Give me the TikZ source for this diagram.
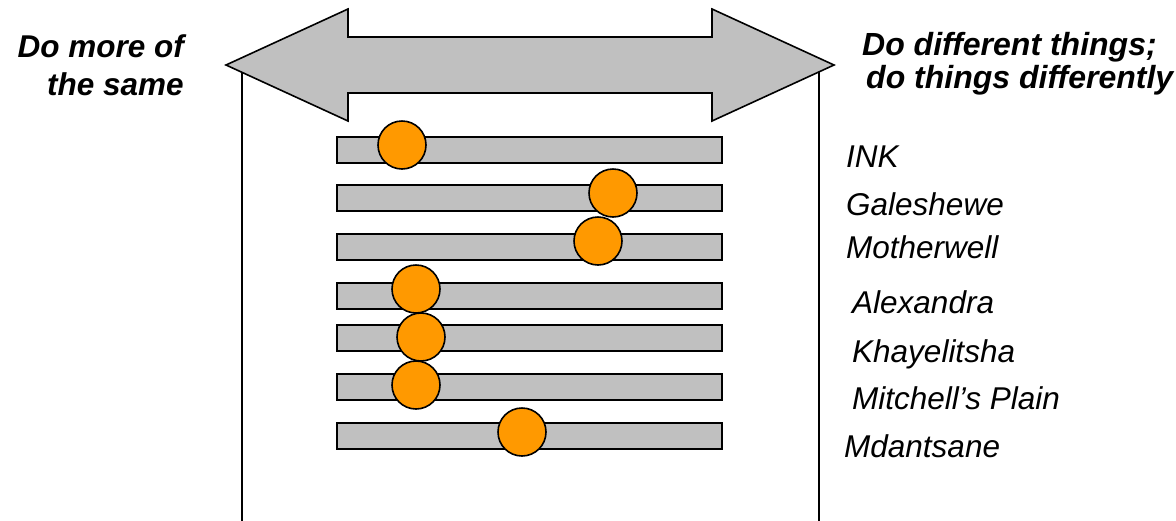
\documentclass[tikz,border=0pt]{standalone}
\usepackage{fontspec}
\setmainfont{Liberation Sans}
\definecolor{bargray}{RGB}{192,192,192}
\definecolor{dotorange}{RGB}{255,153,0}
\begin{document}
\begin{tikzpicture}[x=1pt,y=-1pt,
  bar/.style={draw=black,line width=1.6pt,fill=bargray,rectangle,minimum width=385pt,minimum height=26pt,inner sep=0pt},
  dot/.style={draw=black,line width=1.6pt,fill=dotorange,circle,minimum size=48pt,inner sep=0pt},
  site/.style={anchor=base west,inner sep=0pt,font=\fontsize{31.5}{36}\selectfont\itshape},
  title/.style={inner sep=0pt,font=\fontsize{31.5}{36}\selectfont\bfseries\itshape},
  titleR/.style={inner sep=0pt,font=\fontsize{32}{36}\selectfont\bfseries\itshape}]
\useasboundingbox (0,0) rectangle (1176,520);
% frame
\coordinate (bl) at (242,521);
\coordinate (tl) at (242,66);
\coordinate (br) at (819,521);
\coordinate (tr) at (819,66);
\draw[line width=1.6pt] (tl) -- (bl);
\draw[line width=1.6pt] (tr) -- (br);
% double arrow
\draw[line width=1.6pt,fill=bargray,line join=miter]
  (226,65) -- (348,9) -- (348,37) -- (712,37) -- (712,9) -- (834,65)
  -- (712,121) -- (712,93) -- (348,93) -- (348,121) -- cycle;
% bars
\foreach \i/\y in {1/150,2/198,3/247,4/296,5/338,6/387,7/436}
  \node[bar] (bar\i) at (529.5,\y) {};
% dots
\node[dot] (dot1) at (402,145) {};
\node[dot] (dot2) at (613,193) {};
\node[dot] (dot3) at (598,241) {};
\node[dot] (dot4) at (416,289) {};
\node[dot] (dot5) at (421,337) {};
\node[dot] (dot6) at (416,385) {};
\node[dot] (dot7) at (522,432) {};
% site labels
\node[site] (s1) at (846,167) {INK};
\node[site] (s2) at (846,215) {Galeshewe};
\node[site] (s3) at (846,258) {Motherwell};
\node[site] (s4) at (852,313) {Alexandra};
\node[site] (s5) at (852,362) {Khayelitsha};
\node[site] (s6) at (852,409) {Mitchell’s Plain};
\node[site] (s7) at (844,457) {Mdantsane};
% titles
\node[title,anchor=base east] (t1) at (184,57) {Do more of};
\node[title,anchor=base east] (t2) at (184,95) {the same};
\node[titleR,anchor=base west] (t3) at (862,55) {Do different things;};
\node[titleR,anchor=base west] (t4) at (866,88) {do things differently};
\end{tikzpicture}
\end{document}
